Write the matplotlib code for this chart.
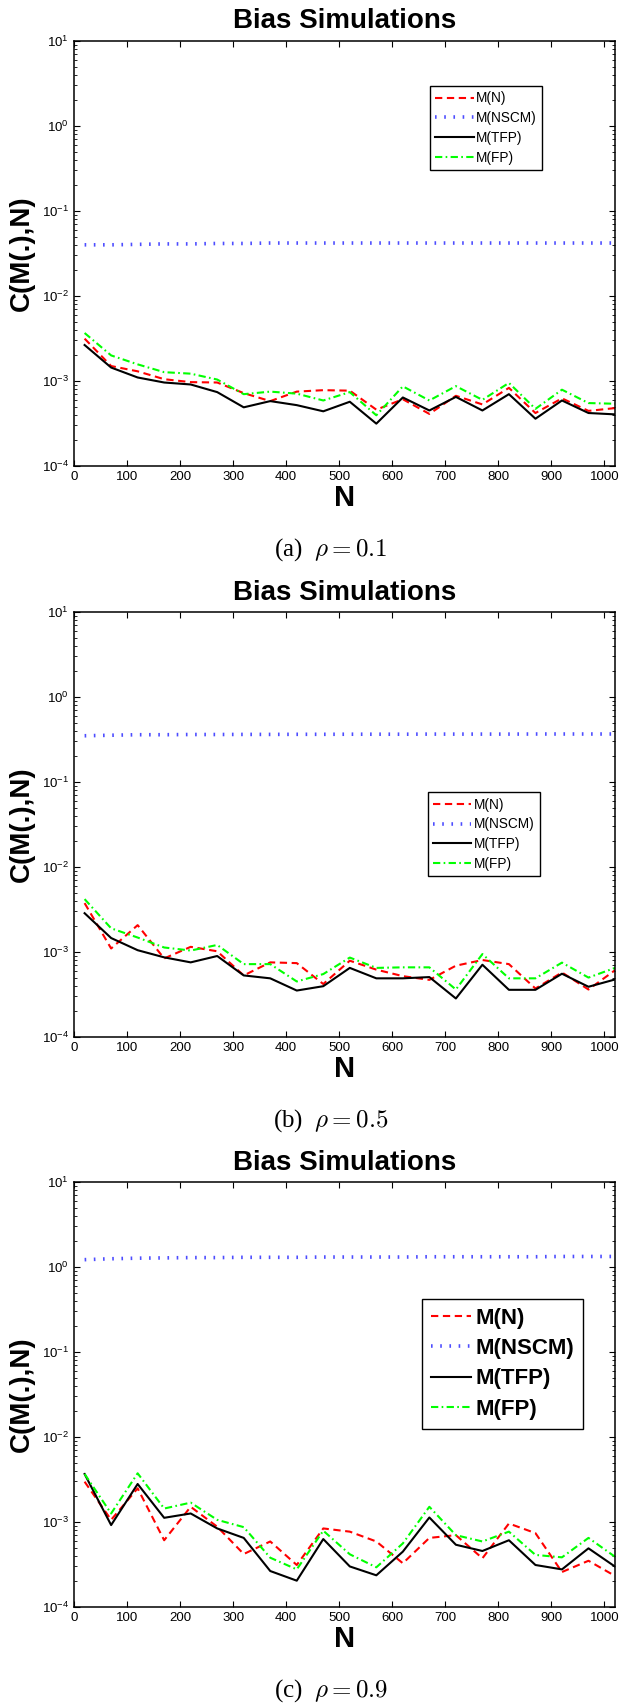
import matplotlib
matplotlib.use("Agg")
import matplotlib.pyplot as plt
import numpy as np

plt.rcParams["font.family"] = ["Liberation Sans", "DejaVu Sans"]
plt.rcParams["mathtext.fontset"] = "custom"
plt.rcParams["mathtext.rm"] = "Liberation Sans"

N = [20, 70, 120, 170, 220, 270, 320, 370, 420, 470, 520,
     570, 620, 670, 720, 770, 820, 870, 920, 970, 1020]

labels = ["M(N)", "M(NSCM)", "M(TFP)", "M(FP)"]
captions = [r"(a)  $\rho = 0.1$", r"(b)  $\rho = 0.5$", r"(c)  $\rho = 0.9$"]

# rho = 0.1
mn_a = [3.15e-3, 1.5e-3, 1.3e-3, 1.05e-3, 9.7e-4, 9.6e-4, 7.2e-4, 5.8e-4, 7.5e-4, 7.8e-4, 7.7e-4,
        4.6e-4, 6.1e-4, 4.1e-4, 6.7e-4, 5.3e-4, 8.3e-4, 4.2e-4, 6.25e-4, 4.45e-4, 4.8e-4]
nscm_a = [0.040, 0.040, 0.0405, 0.041, 0.041, 0.0415, 0.0415, 0.042, 0.042, 0.042, 0.042,
          0.042, 0.042, 0.042, 0.042, 0.042, 0.042, 0.042, 0.042, 0.042, 0.042]
tfp_a = [2.65e-3, 1.44e-3, 1.1e-3, 9.6e-4, 9.1e-4, 7.4e-4, 4.9e-4, 5.8e-4, 5.2e-4, 4.4e-4, 5.7e-4,
         3.15e-4, 6.4e-4, 4.5e-4, 6.5e-4, 4.5e-4, 7.0e-4, 3.6e-4, 5.9e-4, 4.2e-4, 4.05e-4]
fp_a = [3.67e-3, 2.0e-3, 1.57e-3, 1.27e-3, 1.22e-3, 1.04e-3, 7.0e-4, 7.5e-4, 7.1e-4, 5.9e-4, 7.4e-4,
        3.95e-4, 8.65e-4, 5.9e-4, 8.7e-4, 6.0e-4, 9.5e-4, 4.7e-4, 7.9e-4, 5.5e-4, 5.4e-4]

# rho = 0.5
mn_b = [3.76e-3, 1.1e-3, 2.07e-3, 8.4e-4, 1.15e-3, 1.02e-3, 5.3e-4, 7.55e-4, 7.4e-4, 4.2e-4, 7.9e-4,
        6.2e-4, 5.2e-4, 4.7e-4, 6.9e-4, 8.05e-4, 7.2e-4, 3.72e-4, 5.75e-4, 3.62e-4, 6.1e-4]
nscm_b = [0.35, 0.355, 0.36, 0.36, 0.362, 0.362, 0.363, 0.363, 0.364, 0.364, 0.365,
          0.365, 0.365, 0.366, 0.366, 0.366, 0.366, 0.367, 0.367, 0.367, 0.367]
tfp_b = [2.86e-3, 1.46e-3, 1.05e-3, 8.65e-4, 7.55e-4, 8.97e-4, 5.3e-4, 4.9e-4, 3.52e-4, 3.96e-4, 6.5e-4,
         4.9e-4, 4.9e-4, 5.07e-4, 2.84e-4, 7.08e-4, 3.59e-4, 3.59e-4, 5.55e-4, 3.9e-4, 4.75e-4]
fp_b = [4.19e-3, 1.9e-3, 1.48e-3, 1.13e-3, 1.04e-3, 1.21e-3, 7.2e-4, 7.2e-4, 4.5e-4, 5.5e-4, 8.6e-4,
        6.5e-4, 6.6e-4, 6.6e-4, 3.62e-4, 9.46e-4, 4.9e-4, 4.9e-4, 7.5e-4, 5.0e-4, 6.5e-4]

# rho = 0.9
mn_c = [2.98e-3, 1.06e-3, 2.49e-3, 6.1e-4, 1.51e-3, 8.8e-4, 4.2e-4, 5.9e-4, 3.12e-4, 8.4e-4, 7.7e-4,
        5.9e-4, 3.27e-4, 6.5e-4, 7.0e-4, 3.74e-4, 9.6e-4, 7.4e-4, 2.58e-4, 3.5e-4, 2.32e-4]
nscm_c = [1.22, 1.25, 1.27, 1.28, 1.29, 1.29, 1.30, 1.30, 1.30, 1.31, 1.31,
          1.31, 1.31, 1.32, 1.32, 1.32, 1.32, 1.32, 1.33, 1.33, 1.33]
tfp_c = [3.67e-3, 9.2e-4, 2.8e-3, 1.12e-3, 1.26e-3, 8.4e-4, 6.5e-4, 2.65e-4, 2.04e-4, 6.3e-4, 3.0e-4,
         2.36e-4, 4.48e-4, 1.13e-3, 5.4e-4, 4.56e-4, 6.1e-4, 3.12e-4, 2.77e-4, 4.9e-4, 2.99e-4]
fp_c = [3.67e-3, 1.26e-3, 3.74e-3, 1.44e-3, 1.69e-3, 1.06e-3, 8.7e-4, 3.8e-4, 2.77e-4, 7.9e-4, 4.17e-4,
        2.93e-4, 5.6e-4, 1.51e-3, 7.0e-4, 5.9e-4, 7.7e-4, 4.1e-4, 3.84e-4, 6.5e-4, 3.9e-4]

panels = [(mn_a, nscm_a, tfp_a, fp_a),
          (mn_b, nscm_b, tfp_b, fp_b),
          (mn_c, nscm_c, tfp_c, fp_c)]

# axes boxes in pixels: (top, bottom)
W, H = 636, 1704
ax_left, ax_right = 74, 615
ax_rows = [(41, 466), (612, 1037), (1182, 1607)]
# legend anchor (axes fraction) and font settings per panel
leg_anchor = [(0.658, 0.894), (0.654, 0.576), (0.643, 0.725)]
leg_font = [dict(size=9.8), dict(size=9.8), dict(size=16, weight="bold")]
leg_hlen = [2.8, 2.8, 1.8]

fig = plt.figure(figsize=(W / 100, H / 100), dpi=100)

for i, (mn, nscm, tfp, fp) in enumerate(panels):
    top, bot = ax_rows[i]
    ax = fig.add_axes([ax_left / W, 1 - bot / H, (ax_right - ax_left) / W, (bot - top) / H])
    ax.plot(N, mn, color="red", linestyle=(0, (3.5, 2.2)), lw=1.5, label=labels[0])
    ax.plot(N, nscm, color=(0.3, 0.3, 1.0), linestyle=(0, (0.45, 2.1)), lw=2.6,
            dash_capstyle="butt", label=labels[1])
    ax.plot(N, tfp, color="black", linestyle="-", lw=1.5, label=labels[2])
    ax.plot(N, fp, color=(0, 1, 0), linestyle=(0, (3.5, 1.6, 0.8, 1.6)), lw=1.5, label=labels[3])

    ax.set_yscale("log")
    ax.set_ylim(1e-4, 10)
    ax.set_xlim(0, 1020)
    ax.set_xticks(np.arange(0, 1001, 100))
    ax.tick_params(which="both", direction="in", top=True, right=True, labelsize=9.5)
    ax.tick_params(which="major", length=4, width=0.8)
    ax.tick_params(which="minor", length=2.5, width=0.6)
    for s in ax.spines.values():
        s.set_linewidth(1.1)

    ax.set_title("Bias Simulations", fontsize=20, fontweight="bold", pad=9)
    ax.set_ylabel("C(M(.),N)", fontsize=20, fontweight="bold")
    ax.yaxis.set_label_coords(-0.072, 0.5)
    ax.set_xlabel("N", fontsize=21, fontweight="bold")
    ax.xaxis.set_label_coords(0.5, -0.042)

    leg = ax.legend(loc="upper left", bbox_to_anchor=leg_anchor[i], borderaxespad=0,
                    prop=leg_font[i], handlelength=leg_hlen[i], handletextpad=0.2,
                    labelspacing=0.42, borderpad=0.4, fancybox=False, framealpha=1,
                    edgecolor="black")
    leg.get_frame().set_linewidth(1.0)

    fig.text(331 / W, 1 - (bot + 84) / H, captions[i], ha="center", va="center",
             fontsize=18, family=["Liberation Serif", "DejaVu Serif"],
             math_fontfamily="cm")

fig.savefig("out.png", dpi=100)
